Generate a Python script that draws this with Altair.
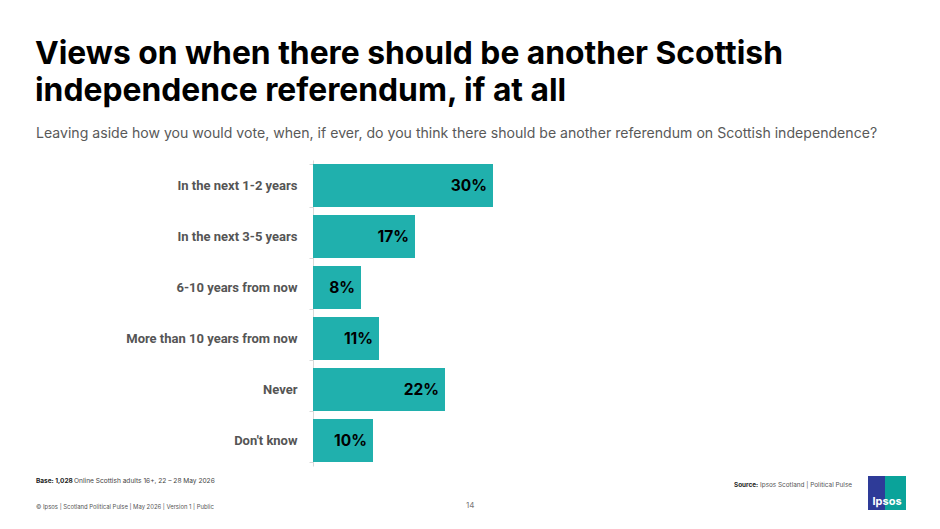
import altair as alt
import pandas as pd

categories = ["In the next 1-2 years", "In the next 3-5 years", "6-10 years from now",
              "More than 10 years from now", "Never", "Don't know"]
values = [30, 17, 8, 11, 22, 10]
labels = ["30%", "17%", "8%", "11%", "22%", "10%"]

title_lines = ["Views on when there should be another Scottish",
               "independence referendum, if at all"]
subtitle = "Leaving aside how you would vote, when, if ever, do you think there should be another referendum on Scottish independence?"
base_bold = "Base: 1,028"
base_rest = "Online Scottish adults 16+, 22 – 28 May 2026"
footer = "© Ipsos | Scotland Political Pulse | May 2026 | Version 1 | Public"
page_no = "14"
source_bold = "Source:"
source_rest = "Ipsos Scotland | Political Pulse"

df = pd.DataFrame({"cat": categories, "value": values, "label": labels})

PL, PT = 313, 160
W, H = 600, 306
BAR = "#20b0ad"

y_enc = alt.Y("cat:N", sort=categories, title=None,
              scale=alt.Scale(paddingInner=0.16, paddingOuter=0.08),
              axis=alt.Axis(labelFont="Roboto", labelFontWeight="bold", labelFontSize=13,
                            labelColor="#555555", labelPadding=12, tickSize=4,
                            tickBand="extent", tickColor="#d9d9d9", domainColor="#d9d9d9",
                            labelLimit=300))
x_enc = alt.X("value:Q", scale=alt.Scale(domain=[0, 100]), axis=None)

bars = alt.Chart(df).mark_bar(color=BAR).encode(x=x_enc, y=y_enc)
vals = alt.Chart(df).mark_text(align="right", dx=-6, font="Inter", fontWeight="bold",
                               fontSize=15.5, color="#000000").encode(
    x=x_enc, y=alt.Y("cat:N", sort=categories), text="label:N")

def txt(s, x, y, size, weight="normal", color="#000000", font="Inter", align="left"):
    d = pd.DataFrame({"t": [s]})
    return alt.Chart(d).mark_text(align=align, baseline="alphabetic", fontSize=size,
                                  fontWeight=weight, color=color, font=font).encode(
        x=alt.value(x - PL), y=alt.value(y - PT), text="t:N")

texts = [
    txt(title_lines[0], 35, 64, 31.8, "bold"),
    txt(title_lines[1], 35, 101, 31.8, "bold"),
    txt(subtitle, 36, 138, 14.1, color="#595959"),
    txt(base_bold, 36, 483, 6.5, "bold", "#222222"),
    txt(base_rest, 74, 483, 6.6, color="#444444"),
    txt(footer, 36, 509, 5.9, color="#555555"),
    txt(page_no, 466, 508, 8, color="#777777"),
    txt(source_bold, 734, 487, 6.4, "bold", "#222222"),
    txt(source_rest, 760, 487, 6.4, color="#555555"),
]

logo_df = pd.DataFrame({"c": ["a"]})
logo_blue = alt.Chart(logo_df).mark_rect(color="#2e3b98").encode(
    x=alt.value(868 - PL), x2=alt.value(885 - PL), y=alt.value(476 - PT), y2=alt.value(510 - PT))
logo_teal = alt.Chart(logo_df).mark_rect(color="#0aa39a").encode(
    x=alt.value(885 - PL), x2=alt.value(906 - PL), y=alt.value(476 - PT), y2=alt.value(510 - PT))
logo_txt = txt("Ipsos", 887, 505, 11, "bold", "#ffffff", align="center")

chart = alt.layer(bars, vals, *texts, logo_blue, logo_teal, logo_txt).properties(
    width=W, height=H, autosize="none",
    padding={"left": PL, "top": PT, "right": 940 - PL - W, "bottom": 529 - PT - H},
    background="#ffffff"
).configure_view(stroke=None)

chart.save("out.html", embed_options={"renderer": "svg", "actions": False})
